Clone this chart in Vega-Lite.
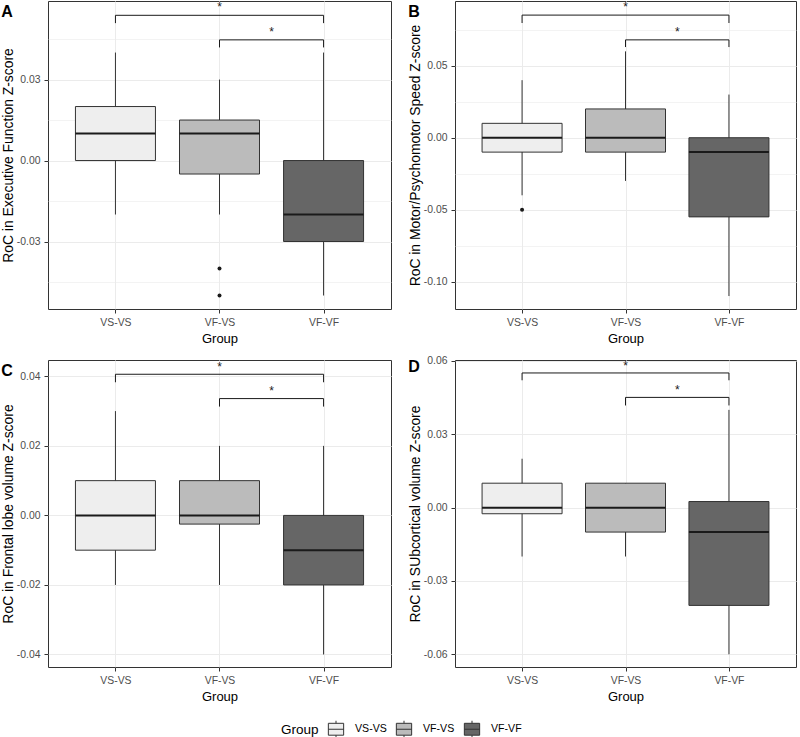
{
"$schema": "https://vega.github.io/schema/vega-lite/v6.json",
"padding": {"left": 0, "top": 0, "right": 0, "bottom": 0},
"datasets": {
 "boxes": [
  {"panel":"A","group":"VS-VS","pos":1,"lo":-0.02,"q1":0,"med":0.01,"q3":0.02,"hi":0.04},
  {"panel":"A","group":"VF-VS","pos":2,"lo":-0.02,"q1":-0.005,"med":0.01,"q3":0.015,"hi":0.03},
  {"panel":"A","group":"VF-VF","pos":3,"lo":-0.05,"q1":-0.03,"med":-0.02,"q3":0,"hi":0.04},
  {"panel":"B","group":"VS-VS","pos":1,"lo":-0.04,"q1":-0.01,"med":0,"q3":0.01,"hi":0.04},
  {"panel":"B","group":"VF-VS","pos":2,"lo":-0.03,"q1":-0.01,"med":0,"q3":0.02,"hi":0.06},
  {"panel":"B","group":"VF-VF","pos":3,"lo":-0.11,"q1":-0.055,"med":-0.01,"q3":0,"hi":0.03},
  {"panel":"C","group":"VS-VS","pos":1,"lo":-0.02,"q1":-0.01,"med":0,"q3":0.01,"hi":0.03},
  {"panel":"C","group":"VF-VS","pos":2,"lo":-0.02,"q1":-0.0025,"med":0,"q3":0.01,"hi":0.02},
  {"panel":"C","group":"VF-VF","pos":3,"lo":-0.04,"q1":-0.02,"med":-0.01,"q3":0,"hi":0.02},
  {"panel":"D","group":"VS-VS","pos":1,"lo":-0.02,"q1":-0.0025,"med":0,"q3":0.01,"hi":0.02},
  {"panel":"D","group":"VF-VS","pos":2,"lo":-0.02,"q1":-0.01,"med":0,"q3":0.01,"hi":0.01},
  {"panel":"D","group":"VF-VF","pos":3,"lo":-0.06,"q1":-0.04,"med":-0.01,"q3":0.0025,"hi":0.04}
 ],
 "outliers": [
  {"panel":"A","group":"VF-VS","pos":2,"value":-0.04},
  {"panel":"A","group":"VF-VS","pos":2,"value":-0.05},
  {"panel":"B","group":"VS-VS","pos":1,"value":-0.05}
 ],
 "brackets": [
  {"panel":"A","x1":1,"x2":3,"xmid":2,"y":0.0538,"ytip":0.0509,"ystar":0.0568,"label":"*"},
  {"panel":"A","x1":2,"x2":3,"xmid":2.5,"y":0.0447,"ytip":0.0419,"ystar":0.0478,"label":"*"},
  {"panel":"B","x1":1,"x2":3,"xmid":2,"y":0.0852,"ytip":0.0797,"ystar":0.091,"label":"*"},
  {"panel":"B","x1":2,"x2":3,"xmid":2.5,"y":0.068,"ytip":0.063,"ystar":0.0738,"label":"*"},
  {"panel":"C","x1":1,"x2":3,"xmid":2,"y":0.0406,"ytip":0.0383,"ystar":0.0426,"label":"*"},
  {"panel":"C","x1":2,"x2":3,"xmid":2.5,"y":0.0336,"ytip":0.0313,"ystar":0.0357,"label":"*"},
  {"panel":"D","x1":1,"x2":3,"xmid":2,"y":0.0551,"ytip":0.0521,"ystar":0.0579,"label":"*"},
  {"panel":"D","x1":2,"x2":3,"xmid":2.5,"y":0.0451,"ytip":0.0418,"ystar":0.0481,"label":"*"}
 ]
},
"vconcat": [
 {"hconcat": [
  {"width": 343, "height": 308, "title": {"text": "A"},
   "layer": [
    {"data":{"name":"boxes"},"transform":[{"filter":"datum.panel=='A'"}],
     "mark":{"type":"rule","color":"#333333","strokeWidth":1},
     "encoding":{
      "x":{"field":"pos","type":"quantitative","scale":{"domain":[0.4,3.6],"nice":false,"zero":false},
           "axis":{"title":"Group","values":[1,2,3],"labelExpr":"datum.value==1?'VS-VS':datum.value==2?'VF-VS':'VF-VF'","grid":true}},
      "y":{"field":"lo","type":"quantitative","scale":{"domain":[-0.055,0.0591],"nice":false,"zero":false},
           "axis":{"title":"RoC in Executive Function Z-score","values":[-0.045,-0.03,-0.015,0,0.015,0.03,0.045],
             "labelExpr":"abs(datum.value/0.03-round(datum.value/0.03))<0.001 ? replace(format(datum.value,'.2f'),'\u2212','-') : ''",
             "tickOpacity":{"condition":{"test":"abs(datum.value/0.03-round(datum.value/0.03))<0.001","value":1},"value":0},
             "gridWidth":{"condition":{"test":"abs(datum.value/0.03-round(datum.value/0.03))<0.001","value":1.1},"value":0.6}}},
      "y2":{"field":"hi"}}},
    {"data":{"name":"boxes"},"transform":[{"filter":"datum.panel=='A'"}],
     "mark":{"type":"bar","size":80,"stroke":"#333333","strokeWidth":1},
     "encoding":{
      "x":{"field":"pos","type":"quantitative","scale":{"domain":[0.4,3.6],"nice":false,"zero":false}},
      "y":{"field":"q1","type":"quantitative","scale":{"domain":[-0.055,0.0591],"nice":false,"zero":false}},
      "y2":{"field":"q3"},
      "fill":{"field":"group","type":"nominal","scale":{"domain":["VS-VS","VF-VS","VF-VF"],"range":["#EEEEEE","#BBBBBB","#666666"]},
        "legend":{"title":"Group","orient":"none","legendX":233,"legendY":719,"direction":"horizontal","titleOrient":"left",
          "symbolType":"M-0.9,-0.7H0.9V0.7H-0.9Z M0,-1V-0.7 M0,0.7V1 M-0.9,0H0.9","symbolSize":289,"symbolStrokeColor":"#333333","symbolStrokeWidth":1,
          "symbolOpacity":1,"labelFontSize":10.6,"labelColor":"#000000","titleFontSize":13.5,"titleFontWeight":"normal","titlePadding":8,"labelOffset":10,"columnPadding":7}}}},
    {"data":{"name":"boxes"},"transform":[{"filter":"datum.panel=='A'"}],
     "mark":{"type":"tick","orient":"horizontal","size":80,"thickness":2,"color":"#1A1A1A","opacity":1},
     "encoding":{
      "x":{"field":"pos","type":"quantitative","scale":{"domain":[0.4,3.6],"nice":false,"zero":false}},
      "y":{"field":"med","type":"quantitative","scale":{"domain":[-0.055,0.0591],"nice":false,"zero":false}}}},
    {"data":{"name":"outliers"},"transform":[{"filter":"datum.panel=='A'"}],
     "mark":{"type":"point","filled":true,"size":16,"color":"#1A1A1A","opacity":1},
     "encoding":{
      "x":{"field":"pos","type":"quantitative","scale":{"domain":[0.4,3.6],"nice":false,"zero":false}},
      "y":{"field":"value","type":"quantitative","scale":{"domain":[-0.055,0.0591],"nice":false,"zero":false}}}},
    {"data":{"name":"brackets"},"transform":[{"filter":"datum.panel=='A'"}],
     "mark":{"type":"rule","color":"#1A1A1A","strokeWidth":1},
     "encoding":{
      "x":{"field":"x1","type":"quantitative","scale":{"domain":[0.4,3.6],"nice":false,"zero":false}},
      "x2":{"field":"x2"},
      "y":{"field":"y","type":"quantitative","scale":{"domain":[-0.055,0.0591],"nice":false,"zero":false}}}},
    {"data":{"name":"brackets"},"transform":[{"filter":"datum.panel=='A'"}],
     "mark":{"type":"rule","color":"#1A1A1A","strokeWidth":1},
     "encoding":{
      "x":{"field":"x1","type":"quantitative","scale":{"domain":[0.4,3.6],"nice":false,"zero":false}},
      "y":{"field":"ytip","type":"quantitative","scale":{"domain":[-0.055,0.0591],"nice":false,"zero":false}},
      "y2":{"field":"y"}}},
    {"data":{"name":"brackets"},"transform":[{"filter":"datum.panel=='A'"}],
     "mark":{"type":"rule","color":"#1A1A1A","strokeWidth":1},
     "encoding":{
      "x":{"field":"x2","type":"quantitative","scale":{"domain":[0.4,3.6],"nice":false,"zero":false}},
      "y":{"field":"ytip","type":"quantitative","scale":{"domain":[-0.055,0.0591],"nice":false,"zero":false}},
      "y2":{"field":"y"}}},
    {"data":{"name":"brackets"},"transform":[{"filter":"datum.panel=='A'"}],
     "mark":{"type":"text","fontSize":12,"color":"#1A1A1A","baseline":"middle"},
     "encoding":{
      "x":{"field":"xmid","type":"quantitative","scale":{"domain":[0.4,3.6],"nice":false,"zero":false}},
      "y":{"field":"ystar","type":"quantitative","scale":{"domain":[-0.055,0.0591],"nice":false,"zero":false}},
      "text":{"field":"label"}}}
   ]},
  {"width": 341, "height": 308, "title": {"text": "B"},
   "layer": [
    {"data":{"name":"boxes"},"transform":[{"filter":"datum.panel=='B'"}],
     "mark":{"type":"rule","color":"#333333","strokeWidth":1},
     "encoding":{
      "x":{"field":"pos","type":"quantitative","scale":{"domain":[0.4,3.6],"nice":false,"zero":false},
           "axis":{"title":"Group","values":[1,2,3],"labelExpr":"datum.value==1?'VS-VS':datum.value==2?'VF-VS':'VF-VF'","grid":true}},
      "y":{"field":"lo","type":"quantitative","scale":{"domain":[-0.119,0.095],"nice":false,"zero":false},
           "axis":{"title":"RoC in Motor/Psychomotor Speed Z-score","values":[-0.1,-0.075,-0.05,-0.025,0,0.025,0.05,0.075],
             "labelExpr":"abs(datum.value/0.05-round(datum.value/0.05))<0.001 ? replace(format(datum.value,'.2f'),'\u2212','-') : ''",
             "tickOpacity":{"condition":{"test":"abs(datum.value/0.05-round(datum.value/0.05))<0.001","value":1},"value":0},
             "gridWidth":{"condition":{"test":"abs(datum.value/0.05-round(datum.value/0.05))<0.001","value":1.1},"value":0.6}}},
      "y2":{"field":"hi"}}},
    {"data":{"name":"boxes"},"transform":[{"filter":"datum.panel=='B'"}],
     "mark":{"type":"bar","size":80,"stroke":"#333333","strokeWidth":1},
     "encoding":{
      "x":{"field":"pos","type":"quantitative","scale":{"domain":[0.4,3.6],"nice":false,"zero":false}},
      "y":{"field":"q1","type":"quantitative","scale":{"domain":[-0.119,0.095],"nice":false,"zero":false}},
      "y2":{"field":"q3"},
      "fill":{"field":"group","type":"nominal","scale":{"domain":["VS-VS","VF-VS","VF-VF"],"range":["#EEEEEE","#BBBBBB","#666666"]},"legend":null}}},
    {"data":{"name":"boxes"},"transform":[{"filter":"datum.panel=='B'"}],
     "mark":{"type":"tick","orient":"horizontal","size":80,"thickness":2,"color":"#1A1A1A","opacity":1},
     "encoding":{
      "x":{"field":"pos","type":"quantitative","scale":{"domain":[0.4,3.6],"nice":false,"zero":false}},
      "y":{"field":"med","type":"quantitative","scale":{"domain":[-0.119,0.095],"nice":false,"zero":false}}}},
    {"data":{"name":"outliers"},"transform":[{"filter":"datum.panel=='B'"}],
     "mark":{"type":"point","filled":true,"size":16,"color":"#1A1A1A","opacity":1},
     "encoding":{
      "x":{"field":"pos","type":"quantitative","scale":{"domain":[0.4,3.6],"nice":false,"zero":false}},
      "y":{"field":"value","type":"quantitative","scale":{"domain":[-0.119,0.095],"nice":false,"zero":false}}}},
    {"data":{"name":"brackets"},"transform":[{"filter":"datum.panel=='B'"}],
     "mark":{"type":"rule","color":"#1A1A1A","strokeWidth":1},
     "encoding":{
      "x":{"field":"x1","type":"quantitative","scale":{"domain":[0.4,3.6],"nice":false,"zero":false}},
      "x2":{"field":"x2"},
      "y":{"field":"y","type":"quantitative","scale":{"domain":[-0.119,0.095],"nice":false,"zero":false}}}},
    {"data":{"name":"brackets"},"transform":[{"filter":"datum.panel=='B'"}],
     "mark":{"type":"rule","color":"#1A1A1A","strokeWidth":1},
     "encoding":{
      "x":{"field":"x1","type":"quantitative","scale":{"domain":[0.4,3.6],"nice":false,"zero":false}},
      "y":{"field":"ytip","type":"quantitative","scale":{"domain":[-0.119,0.095],"nice":false,"zero":false}},
      "y2":{"field":"y"}}},
    {"data":{"name":"brackets"},"transform":[{"filter":"datum.panel=='B'"}],
     "mark":{"type":"rule","color":"#1A1A1A","strokeWidth":1},
     "encoding":{
      "x":{"field":"x2","type":"quantitative","scale":{"domain":[0.4,3.6],"nice":false,"zero":false}},
      "y":{"field":"ytip","type":"quantitative","scale":{"domain":[-0.119,0.095],"nice":false,"zero":false}},
      "y2":{"field":"y"}}},
    {"data":{"name":"brackets"},"transform":[{"filter":"datum.panel=='B'"}],
     "mark":{"type":"text","fontSize":12,"color":"#1A1A1A","baseline":"middle"},
     "encoding":{
      "x":{"field":"xmid","type":"quantitative","scale":{"domain":[0.4,3.6],"nice":false,"zero":false}},
      "y":{"field":"ystar","type":"quantitative","scale":{"domain":[-0.119,0.095],"nice":false,"zero":false}},
      "text":{"field":"label"}}}
   ]}
 ]},
 {"hconcat": [
  {"width": 343, "height": 307, "title": {"text": "C"},
   "layer": [
    {"data":{"name":"boxes"},"transform":[{"filter":"datum.panel=='C'"}],
     "mark":{"type":"rule","color":"#333333","strokeWidth":1},
     "encoding":{
      "x":{"field":"pos","type":"quantitative","scale":{"domain":[0.4,3.6],"nice":false,"zero":false},
           "axis":{"title":"Group","values":[1,2,3],"labelExpr":"datum.value==1?'VS-VS':datum.value==2?'VF-VS':'VF-VF'","grid":true}},
      "y":{"field":"lo","type":"quantitative","scale":{"domain":[-0.0436,0.0447],"nice":false,"zero":false},
           "axis":{"title":"RoC in Frontal lobe volume Z-score","values":[-0.04,-0.03,-0.02,-0.01,0,0.01,0.02,0.03,0.04],
             "labelExpr":"abs(datum.value/0.02-round(datum.value/0.02))<0.001 ? replace(format(datum.value,'.2f'),'\u2212','-') : ''",
             "tickOpacity":{"condition":{"test":"abs(datum.value/0.02-round(datum.value/0.02))<0.001","value":1},"value":0},
             "gridWidth":{"condition":{"test":"abs(datum.value/0.02-round(datum.value/0.02))<0.001","value":1.1},"value":0.6}}},
      "y2":{"field":"hi"}}},
    {"data":{"name":"boxes"},"transform":[{"filter":"datum.panel=='C'"}],
     "mark":{"type":"bar","size":80,"stroke":"#333333","strokeWidth":1},
     "encoding":{
      "x":{"field":"pos","type":"quantitative","scale":{"domain":[0.4,3.6],"nice":false,"zero":false}},
      "y":{"field":"q1","type":"quantitative","scale":{"domain":[-0.0436,0.0447],"nice":false,"zero":false}},
      "y2":{"field":"q3"},
      "fill":{"field":"group","type":"nominal","scale":{"domain":["VS-VS","VF-VS","VF-VF"],"range":["#EEEEEE","#BBBBBB","#666666"]},"legend":null}}},
    {"data":{"name":"boxes"},"transform":[{"filter":"datum.panel=='C'"}],
     "mark":{"type":"tick","orient":"horizontal","size":80,"thickness":2,"color":"#1A1A1A","opacity":1},
     "encoding":{
      "x":{"field":"pos","type":"quantitative","scale":{"domain":[0.4,3.6],"nice":false,"zero":false}},
      "y":{"field":"med","type":"quantitative","scale":{"domain":[-0.0436,0.0447],"nice":false,"zero":false}}}},
    {"data":{"name":"brackets"},"transform":[{"filter":"datum.panel=='C'"}],
     "mark":{"type":"rule","color":"#1A1A1A","strokeWidth":1},
     "encoding":{
      "x":{"field":"x1","type":"quantitative","scale":{"domain":[0.4,3.6],"nice":false,"zero":false}},
      "x2":{"field":"x2"},
      "y":{"field":"y","type":"quantitative","scale":{"domain":[-0.0436,0.0447],"nice":false,"zero":false}}}},
    {"data":{"name":"brackets"},"transform":[{"filter":"datum.panel=='C'"}],
     "mark":{"type":"rule","color":"#1A1A1A","strokeWidth":1},
     "encoding":{
      "x":{"field":"x1","type":"quantitative","scale":{"domain":[0.4,3.6],"nice":false,"zero":false}},
      "y":{"field":"ytip","type":"quantitative","scale":{"domain":[-0.0436,0.0447],"nice":false,"zero":false}},
      "y2":{"field":"y"}}},
    {"data":{"name":"brackets"},"transform":[{"filter":"datum.panel=='C'"}],
     "mark":{"type":"rule","color":"#1A1A1A","strokeWidth":1},
     "encoding":{
      "x":{"field":"x2","type":"quantitative","scale":{"domain":[0.4,3.6],"nice":false,"zero":false}},
      "y":{"field":"ytip","type":"quantitative","scale":{"domain":[-0.0436,0.0447],"nice":false,"zero":false}},
      "y2":{"field":"y"}}},
    {"data":{"name":"brackets"},"transform":[{"filter":"datum.panel=='C'"}],
     "mark":{"type":"text","fontSize":12,"color":"#1A1A1A","baseline":"middle"},
     "encoding":{
      "x":{"field":"xmid","type":"quantitative","scale":{"domain":[0.4,3.6],"nice":false,"zero":false}},
      "y":{"field":"ystar","type":"quantitative","scale":{"domain":[-0.0436,0.0447],"nice":false,"zero":false}},
      "text":{"field":"label"}}}
   ]},
  {"width": 341, "height": 307, "title": {"text": "D"},
   "layer": [
    {"data":{"name":"boxes"},"transform":[{"filter":"datum.panel=='D'"}],
     "mark":{"type":"rule","color":"#333333","strokeWidth":1},
     "encoding":{
      "x":{"field":"pos","type":"quantitative","scale":{"domain":[0.4,3.6],"nice":false,"zero":false},
           "axis":{"title":"Group","values":[1,2,3],"labelExpr":"datum.value==1?'VS-VS':datum.value==2?'VF-VS':'VF-VF'","grid":true}},
      "y":{"field":"lo","type":"quantitative","scale":{"domain":[-0.0652,0.0604],"nice":false,"zero":false},
           "axis":{"title":"RoC in SUbcortical volume Z-score","values":[-0.06,-0.045,-0.03,-0.015,0,0.015,0.03,0.045,0.06],
             "labelExpr":"abs(datum.value/0.03-round(datum.value/0.03))<0.001 ? replace(format(datum.value,'.2f'),'\u2212','-') : ''",
             "tickOpacity":{"condition":{"test":"abs(datum.value/0.03-round(datum.value/0.03))<0.001","value":1},"value":0},
             "gridWidth":{"condition":{"test":"abs(datum.value/0.03-round(datum.value/0.03))<0.001","value":1.1},"value":0.6}}},
      "y2":{"field":"hi"}}},
    {"data":{"name":"boxes"},"transform":[{"filter":"datum.panel=='D'"}],
     "mark":{"type":"bar","size":80,"stroke":"#333333","strokeWidth":1},
     "encoding":{
      "x":{"field":"pos","type":"quantitative","scale":{"domain":[0.4,3.6],"nice":false,"zero":false}},
      "y":{"field":"q1","type":"quantitative","scale":{"domain":[-0.0652,0.0604],"nice":false,"zero":false}},
      "y2":{"field":"q3"},
      "fill":{"field":"group","type":"nominal","scale":{"domain":["VS-VS","VF-VS","VF-VF"],"range":["#EEEEEE","#BBBBBB","#666666"]},"legend":null}}},
    {"data":{"name":"boxes"},"transform":[{"filter":"datum.panel=='D'"}],
     "mark":{"type":"tick","orient":"horizontal","size":80,"thickness":2,"color":"#1A1A1A","opacity":1},
     "encoding":{
      "x":{"field":"pos","type":"quantitative","scale":{"domain":[0.4,3.6],"nice":false,"zero":false}},
      "y":{"field":"med","type":"quantitative","scale":{"domain":[-0.0652,0.0604],"nice":false,"zero":false}}}},
    {"data":{"name":"brackets"},"transform":[{"filter":"datum.panel=='D'"}],
     "mark":{"type":"rule","color":"#1A1A1A","strokeWidth":1},
     "encoding":{
      "x":{"field":"x1","type":"quantitative","scale":{"domain":[0.4,3.6],"nice":false,"zero":false}},
      "x2":{"field":"x2"},
      "y":{"field":"y","type":"quantitative","scale":{"domain":[-0.0652,0.0604],"nice":false,"zero":false}}}},
    {"data":{"name":"brackets"},"transform":[{"filter":"datum.panel=='D'"}],
     "mark":{"type":"rule","color":"#1A1A1A","strokeWidth":1},
     "encoding":{
      "x":{"field":"x1","type":"quantitative","scale":{"domain":[0.4,3.6],"nice":false,"zero":false}},
      "y":{"field":"ytip","type":"quantitative","scale":{"domain":[-0.0652,0.0604],"nice":false,"zero":false}},
      "y2":{"field":"y"}}},
    {"data":{"name":"brackets"},"transform":[{"filter":"datum.panel=='D'"}],
     "mark":{"type":"rule","color":"#1A1A1A","strokeWidth":1},
     "encoding":{
      "x":{"field":"x2","type":"quantitative","scale":{"domain":[0.4,3.6],"nice":false,"zero":false}},
      "y":{"field":"ytip","type":"quantitative","scale":{"domain":[-0.0652,0.0604],"nice":false,"zero":false}},
      "y2":{"field":"y"}}},
    {"data":{"name":"brackets"},"transform":[{"filter":"datum.panel=='D'"}],
     "mark":{"type":"text","fontSize":12,"color":"#1A1A1A","baseline":"middle"},
     "encoding":{
      "x":{"field":"xmid","type":"quantitative","scale":{"domain":[0.4,3.6],"nice":false,"zero":false}},
      "y":{"field":"ystar","type":"quantitative","scale":{"domain":[-0.0652,0.0604],"nice":false,"zero":false}},
      "text":{"field":"label"}}}
   ]}
 ]}
],
"spacing": 9,
"config": {
 "font": "Liberation Sans",
 "concat": {"spacing": 15},
 "view": {"stroke": "#333333", "strokeWidth": 1},
 "title": {"anchor": "start", "frame": "bounds", "fontSize": 16, "fontWeight": "bold", "color": "#000000", "baseline": "top", "offset": -19},
 "axis": {"domain": false, "labelColor": "#4D4D4D", "labelFontSize": 10.4, "titleFontSize": 13, "titleFontWeight": "normal", "titleColor": "#000000",
          "tickColor": "#333333", "tickSize": 4, "gridColor": "#EBEBEB"},
 "axisX": {"titlePadding": 5, "labelPadding": 4},
 "axisY": {"titlePadding": 1, "labelPadding": 4, "titleFontSize": 13.9}
}
}
